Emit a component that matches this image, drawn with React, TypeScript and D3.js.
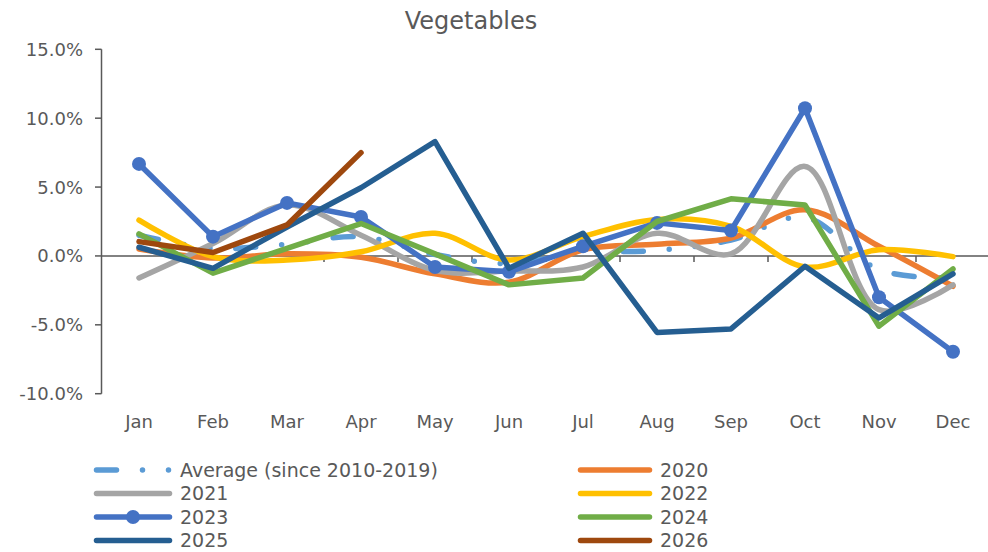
// Vegetables — monthly % change by year, Excel-style line chart redrawn with d3 scales.
import * as d3 from "d3";

const MONTHS = ["Jan", "Feb", "Mar", "Apr", "May", "Jun", "Jul", "Aug", "Sep", "Oct", "Nov", "Dec"];
const Y_TICKS = [-10, -5, 0, 5, 10, 15];

// values in percent
const AVG = [1.5, 0.55, 0.85, 1.4, 0.1, -0.55, 0.25, 0.4, 1.15, 2.8, -1.0, -1.6];
const Y2020 = [0.5, -0.15, 0.15, -0.1, -1.3, -1.9, 0.45, 0.85, 1.3, 3.35, 0.7, -2.2];
const Y2021 = [-1.6, 0.9, 3.7, 1.5, -1.05, -1.1, -0.8, 1.65, 0.15, 6.5, -3.9, -2.1];
const Y2022 = [2.6, -0.05, -0.3, 0.3, 1.65, -0.3, 1.4, 2.65, 2.15, -0.8, 0.45, -0.05];
const Y2023 = [6.68, 1.4, 3.85, 2.83, -0.8, -1.15, 0.7, 2.4, 1.85, 10.72, -3.0, -6.95];
const Y2024 = [1.6, -1.25, 0.55, 2.35, 0.15, -2.1, -1.6, 2.5, 4.15, 3.7, -5.1, -0.95];
const Y2025 = [0.63, -0.9, 2.1, 4.95, 8.3, -0.9, 1.65, -5.55, -5.3, -0.75, -4.5, -1.3];
const Y2026 = [1.04, 0.25, 2.25, 7.5];

type Series = {
  name: string;
  values: number[];
  color: string;
  smooth?: boolean;
  dash?: string;
  markers?: boolean;
};

const SERIES: Series[] = [
  { name: "Average (since 2010-2019)", values: AVG, color: "#5B9BD5", smooth: true, dash: "20 26 0 26 0 26" },
  { name: "2020", values: Y2020, color: "#ED7D31", smooth: true },
  { name: "2021", values: Y2021, color: "#A5A5A5", smooth: true },
  { name: "2022", values: Y2022, color: "#FFC000", smooth: true },
  { name: "2023", values: Y2023, color: "#4472C4", markers: true },
  { name: "2024", values: Y2024, color: "#70AD47" },
  { name: "2025", values: Y2025, color: "#255E91" },
  { name: "2026", values: Y2026, color: "#9E480E" },
];

const W = 988;
const H = 552;
const FONT = "'DejaVu Sans', sans-serif";
const INK = "#595959";

export default function App() {
  const x = d3.scaleBand<string>().domain(MONTHS).range([102, 990]);
  const y = d3.scaleLinear().domain([-10, 15]).range([393.7, 49.3]);
  const cx = (i: number) => (x(MONTHS[i]) ?? 0) + x.bandwidth() / 2;

  const straight = d3.line<number>().x((_, i) => cx(i)).y((v) => y(v));
  const smooth = d3
    .line<number>()
    .x((_, i) => cx(i))
    .y((v) => y(v))
    .curve(d3.curveCatmullRom.alpha(0.5));

  const legendRows = [470, 493.5, 517, 540.5];

  return (
    <svg
      width={W}
      height={H}
      viewBox={`0 0 ${W} ${H}`}
      style={{ position: "absolute", left: 0, top: 0, background: "#fff" }}
      fontFamily={FONT}
    >
      <text x={471} y={29} textAnchor="middle" fontSize={24} fill={INK}>
        Vegetables
      </text>

      {/* y axis */}
      <line x1={101.5} x2={101.5} y1={y(15)} y2={y(-10)} stroke={INK} strokeWidth={1.5} />
      {Y_TICKS.map((t) => (
        <g key={t}>
          <line x1={95} x2={101.5} y1={y(t)} y2={y(t)} stroke={INK} strokeWidth={1.5} />
          <text x={83} y={y(t)} dy="0.36em" textAnchor="end" fontSize={18} fill={INK}>
            {t.toFixed(1)}%
          </text>
        </g>
      ))}

      {/* zero line with category ticks */}
      <line x1={101.5} x2={990} y1={y(0)} y2={y(0)} stroke={INK} strokeWidth={1.5} />
      {MONTHS.map((m) => (
        <line
          key={`t-${m}`}
          x1={(x(m) ?? 0) + x.bandwidth()}
          x2={(x(m) ?? 0) + x.bandwidth()}
          y1={y(0)}
          y2={y(0) + 6}
          stroke={INK}
          strokeWidth={1.5}
        />
      ))}
      {MONTHS.map((m, i) => (
        <text key={m} x={cx(i)} y={428} textAnchor="middle" fontSize={18} fill={INK}>
          {m}
        </text>
      ))}

      {/* series */}
      {SERIES.map((s) => (
        <g key={s.name}>
          <path
            d={(s.smooth ? smooth : straight)(s.values) ?? ""}
            fill="none"
            stroke={s.color}
            strokeWidth={5.5}
            strokeLinecap="round"
            strokeLinejoin="round"
            strokeDasharray={s.dash}
          />
          {s.markers &&
            s.values.map((v, i) => <circle key={i} cx={cx(i)} cy={y(v)} r={7} fill={s.color} />)}
        </g>
      ))}

      {/* legend, two columns */}
      {SERIES.map((s, i) => {
        const col = i % 2;
        const row = Math.floor(i / 2);
        const x0 = col === 0 ? 94 : 578;
        const x1 = col === 0 ? 172 : 652;
        const ty = legendRows[row];
        return (
          <g key={`lg-${s.name}`}>
            <line
              x1={x0 + 2.5}
              x2={x1 - 2.5}
              y1={ty}
              y2={ty}
              stroke={s.color}
              strokeWidth={5.5}
              strokeLinecap="round"
              strokeDasharray={s.dash}
            />
            {s.markers && <circle cx={(x0 + x1) / 2} cy={ty} r={7} fill={s.color} />}
            <text x={col === 0 ? 180 : 660} y={ty} dy="0.36em" fontSize={19} fill={INK}>
              {s.name}
            </text>
          </g>
        );
      })}
    </svg>
  );
}
